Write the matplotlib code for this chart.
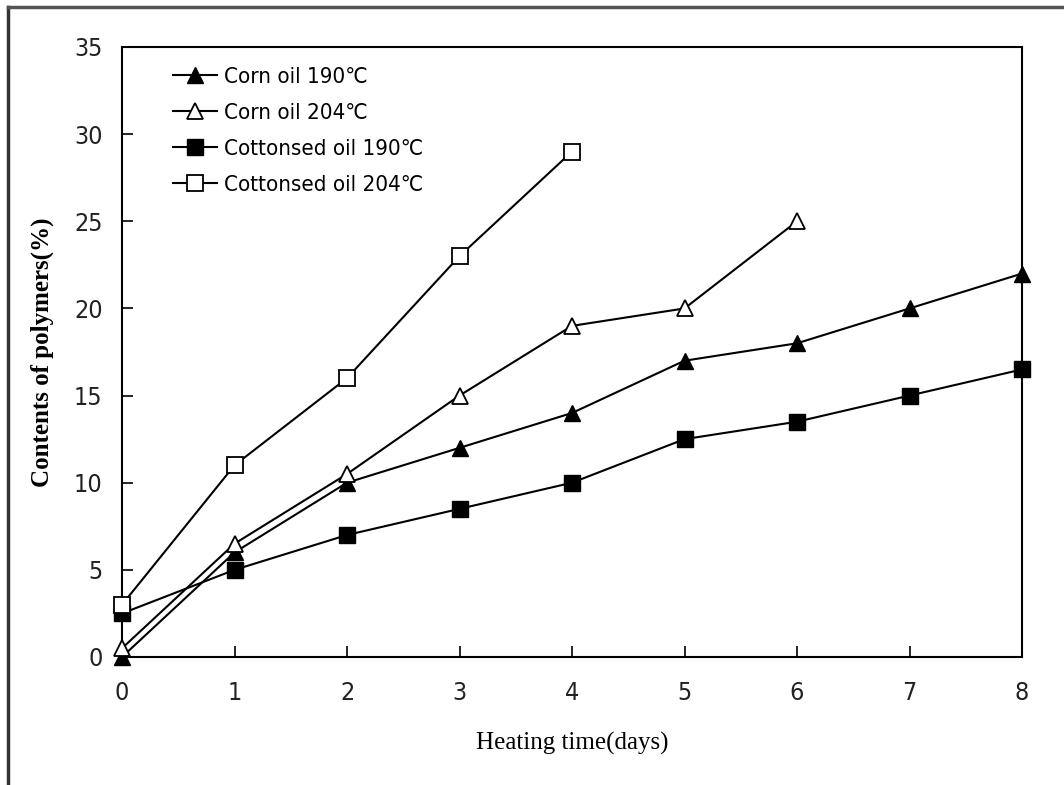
import matplotlib
matplotlib.use("Agg")
import matplotlib.pyplot as plt
from matplotlib.lines import Line2D

days_a = [0, 1, 2, 3, 4, 5, 6, 7, 8]
days_b = [0, 1, 2, 3, 4, 5, 6]
days_c = [0, 1, 2, 3, 4]
corn_190 = [0, 6, 10, 12, 14, 17, 18, 20, 22]
corn_204 = [0.5, 6.5, 10.5, 15, 19, 20, 25]
cotton_190 = [2.5, 5, 7, 8.5, 10, 12.5, 13.5, 15, 16.5]
cotton_204 = [3, 11, 16, 23, 29]
labels = ["Corn oil 190\u2103", "Corn oil 204\u2103", "Cottonsed oil 190\u2103", "Cottonsed oil 204\u2103"]
xticks = [0, 1, 2, 3, 4, 5, 6, 7, 8]
yticks = [0, 5, 10, 15, 20, 25, 30, 35]

sans = ["DejaVu Sans"]
serif = ["Liberation Serif", "DejaVu Serif"]

fig = plt.figure(figsize=(10.64, 7.85), dpi=100)
ax = fig.add_axes([122/1064, 1-657/785, 900/1064, 610/785])

ms = 11
kw = dict(color="black", lw=1.5, clip_on=False, zorder=3)
ax.plot(days_a, corn_190, marker="^", ms=ms, mfc="black", mec="black", label=labels[0], **kw)
ax.plot(days_b, corn_204, marker="^", ms=ms, mfc="white", mec="black", mew=1.3, label=labels[1], **kw)
ax.plot(days_a, cotton_190, marker="s", ms=ms, mfc="black", mec="black", label=labels[2], **kw)
ax.plot(days_c, cotton_204, marker="s", ms=ms, mfc="white", mec="black", mew=1.3, label=labels[3], **kw)

ax.set_xlim(0, 8)
ax.set_ylim(0, 35)
ax.set_xticks(xticks)
ax.set_yticks(yticks)
ax.tick_params(direction="in", length=8, width=1.2, labelsize=18)
ax.tick_params(axis="x", pad=17)
ax.tick_params(axis="y", pad=14)
for lab in ax.get_xticklabels() + ax.get_yticklabels():
    lab.set_fontfamily(sans)
    lab.set_fontstretch("condensed")
    lab.set_color("#222222")
for s in ax.spines.values():
    s.set_linewidth(1.5)

ax.set_xlabel("Heating time(days)", fontfamily=serif, fontsize=18, labelpad=20)
ax.set_ylabel("Contents of polymers(%)", fontfamily=serif, fontsize=18, fontweight="bold", labelpad=14)

leg = ax.legend(loc="upper left", bbox_to_anchor=(0.034, 1.0), frameon=False,
                prop={"family": sans, "size": 16, "stretch": "condensed"}, handlelength=2.0,
                handletextpad=0.3, labelspacing=0.72, markerscale=1.0)

# outer frame lines
fig.add_artist(Line2D([8/1064, 8/1064], [0, 1-7/785], color="#333333", lw=2.5, transform=fig.transFigure))
fig.add_artist(Line2D([8/1064, 1], [1-7/785, 1-7/785], color="#555555", lw=2.5, transform=fig.transFigure))

fig.savefig("out.png", dpi=100)
